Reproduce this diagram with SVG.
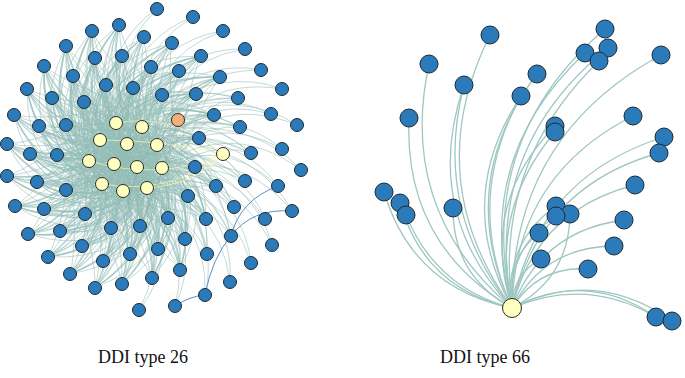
<svg xmlns="http://www.w3.org/2000/svg" xmlns:xlink="http://www.w3.org/1999/xlink" width="685" height="378" viewBox="0 0 685 378">
<style>
.e{fill:none;stroke:#93bcb6;stroke-width:0.9;stroke-opacity:0.62;vector-effect:non-scaling-stroke}
.r{fill:none;stroke:#9fc7c1;stroke-width:1.3;vector-effect:non-scaling-stroke}
.n{fill:#2b7bba;stroke:#1e2a33;stroke-width:1}
.y{fill:#ffffbf;stroke:#2a2a20;stroke-width:1}
.o{fill:#f2b07f;stroke:#2a2a20;stroke-width:1}
.t{font-family:"Liberation Serif","Times New Roman",serif;font-size:18px;fill:#111}
</style>
<defs>
<g id="A">
<path class="e" d="M0,0 Q0.5,-0.3 1,0"/>
<path class="e" d="M0.2,0.25 Q0.55,-0.15 1,0"/>
<path class="e" d="M-0.2,0.2 Q0.35,-0.35 1,0"/>
<path class="e" d="M0.3,-0.2 Q0.7,-0.3 1,0"/>
<path class="e" d="M-0.1,-0.3 Q0.45,-0.5 1,0"/>
<path class="e" d="M0.1,0.1 Q0.6,-0.1 1,0"/>
<path class="e" d="M-0.3,-0.05 Q0.3,-0.6 1,0"/>
<path class="e" d="M0.25,0.35 Q0.75,0.05 1,0"/>
<path class="e" d="M-0.25,0.3 Q0.3,-0.15 1,0"/>
<path class="e" d="M0.35,0.05 Q0.7,-0.15 1,0"/>
<path class="e" d="M0.05,-0.15 Q0.55,-0.45 1,0"/>
<path class="e" d="M-0.15,0.05 Q0.4,-0.25 1,0"/>
<path class="e" d="M0.15,-0.3 Q0.6,-0.55 1,0"/>
<path class="e" d="M-0.05,0.3 Q0.5,0.0 1,0"/>
</g>
<g id="M">
<path class="e" d="M0,0 Q0.5,-0.3 1,0"/>
<path class="e" d="M0.2,0.25 Q0.55,-0.15 1,0"/>
<path class="e" d="M-0.2,0.2 Q0.35,-0.35 1,0"/>
<path class="e" d="M0.3,-0.2 Q0.7,-0.3 1,0"/>
<path class="e" d="M-0.1,-0.3 Q0.45,-0.5 1,0"/>
</g>
<g id="S">
<path class="e" d="M0.1,0.1 Q0.55,-0.3 1,0"/>
<path class="e" d="M0.3,-0.2 Q0.75,-0.25 1,0"/>
</g>
<path id="rc" class="r" d="M0,0 Q0.5,-0.3 1,0"/>
<path id="rc2" class="r" d="M0,0 Q0.5,-0.25 1,0"/>
<path id="rcr" class="r" d="M0,0 Q0.5,0.3 1,0"/>
</defs>
<g id="edges">
<g id="left-edges">
<use href="#A" transform="matrix(-33 -129 129 -33 125 160)"/>
<use href="#A" transform="matrix(-6 -135 135 -6 125 160)"/>
<use href="#A" transform="matrix(19 -123 123 19 125 160)"/>
<use href="#A" transform="matrix(47 -117 117 47 125 160)"/>
<use href="#A" transform="matrix(-59 -114 114 -59 125 160)"/>
<use href="#A" transform="matrix(-30 -102 102 -30 125 160)"/>
<use href="#A" transform="matrix(-3 -104 104 -3 125 160)"/>
<use href="#A" transform="matrix(76 -104 104 76 125 160)"/>
<use href="#A" transform="matrix(-81 -94 94 -81 125 160)"/>
<use href="#A" transform="matrix(26 -93 93 26 125 160)"/>
<use href="#A" transform="matrix(54 -89 89 54 125 160)"/>
<use href="#A" transform="matrix(-52 -84 84 -52 125 160)"/>
<use href="#A" transform="matrix(95 -83 83 95 125 160)"/>
<use href="#A" transform="matrix(-19 -75 75 -19 125 160)"/>
<use href="#A" transform="matrix(8 -72 72 8 125 160)"/>
<use href="#A" transform="matrix(-98 -71 71 -98 125 160)"/>
<use href="#A" transform="matrix(37 -65 65 37 125 160)"/>
<use href="#A" transform="matrix(71 -66 66 71 125 160)"/>
<use href="#A" transform="matrix(-73 -62 62 -73 125 160)"/>
<use href="#A" transform="matrix(-41 -58 58 -41 125 160)"/>
<use href="#A" transform="matrix(-111 -45 45 -111 125 160)"/>
<use href="#A" transform="matrix(89 -45 45 89 125 160)"/>
<use href="#A" transform="matrix(-86 -34 34 -86 125 160)"/>
<use href="#A" transform="matrix(-59 -35 35 -59 125 160)"/>
<use href="#A" transform="matrix(74 -22 22 74 125 160)"/>
<use href="#A" transform="matrix(-118 -16 16 -118 125 160)"/>
<use href="#A" transform="matrix(-95 -6 6 -95 125 160)"/>
<use href="#A" transform="matrix(-68 -5 5 -68 125 160)"/>
<use href="#A" transform="matrix(70 7 -7 70 125 160)"/>
<use href="#A" transform="matrix(-118 16 -16 -118 125 160)"/>
<use href="#A" transform="matrix(-88 22 -22 -88 125 160)"/>
<use href="#A" transform="matrix(-59 30 -30 -59 125 160)"/>
<use href="#A" transform="matrix(63 36 -36 63 125 160)"/>
<use href="#A" transform="matrix(91 26 -26 91 125 160)"/>
<use href="#A" transform="matrix(-110 46 -46 -110 125 160)"/>
<use href="#A" transform="matrix(-81 49 -49 -81 125 160)"/>
<use href="#A" transform="matrix(-40 54 -54 -40 125 160)"/>
<use href="#A" transform="matrix(43 58 -58 43 125 160)"/>
<use href="#A" transform="matrix(81 59 -59 81 125 160)"/>
<use href="#A" transform="matrix(15 66 -66 15 125 160)"/>
<use href="#A" transform="matrix(-14 68 -68 -14 125 160)"/>
<use href="#A" transform="matrix(-97 74 -74 -97 125 160)"/>
<use href="#A" transform="matrix(-65 71 -71 -65 125 160)"/>
<use href="#A" transform="matrix(60 79 -79 60 125 160)"/>
<use href="#A" transform="matrix(-43 86 -86 -43 125 160)"/>
<use href="#A" transform="matrix(33 89 -89 33 125 160)"/>
<use href="#A" transform="matrix(5 94 -94 5 125 160)"/>
<use href="#A" transform="matrix(-22 101 -101 -22 125 160)"/>
<use href="#A" transform="matrix(-77 97 -97 -77 125 160)"/>
<use href="#A" transform="matrix(55 110 -110 55 125 160)"/>
<use href="#A" transform="matrix(-55 114 -114 -55 125 160)"/>
<use href="#A" transform="matrix(27 118 -118 27 125 160)"/>
<use href="#A" transform="matrix(-3 124 -124 -3 125 160)"/>
<use href="#A" transform="matrix(-30 128 -128 -30 125 160)"/>
<use href="#M" transform="matrix(113 -62 62 113 125 160)"/>
<use href="#M" transform="matrix(115 -33 33 115 125 160)"/>
<use href="#M" transform="matrix(126 -7 7 126 125 160)"/>
<use href="#M" transform="matrix(120 21 -21 120 125 160)"/>
<use href="#M" transform="matrix(109 47 -47 109 125 160)"/>
<use href="#M" transform="matrix(106 76 -76 106 125 160)"/>
<use href="#M" transform="matrix(82 94 -94 82 125 160)"/>
<use href="#S" transform="matrix(32 -151 151 32 125 160)"/>
<use href="#S" transform="matrix(68 -143 143 68 125 160)"/>
<use href="#S" transform="matrix(98 -129 129 98 125 160)"/>
<use href="#S" transform="matrix(120 -111 111 120 125 160)"/>
<use href="#S" transform="matrix(136 -90 90 136 125 160)"/>
<use href="#S" transform="matrix(157 -71 71 157 125 160)"/>
<use href="#S" transform="matrix(146 -46 46 146 125 160)"/>
<use href="#S" transform="matrix(172 -35 35 172 125 160)"/>
<use href="#S" transform="matrix(157 -11 11 157 125 160)"/>
<use href="#S" transform="matrix(176 10 -10 176 125 160)"/>
<use href="#S" transform="matrix(153 26 -26 153 125 160)"/>
<use href="#S" transform="matrix(167 51 -51 167 125 160)"/>
<use href="#S" transform="matrix(140 59 -59 140 125 160)"/>
<use href="#S" transform="matrix(147 85 -85 147 125 160)"/>
<use href="#S" transform="matrix(126 103 -103 126 125 160)"/>
<use href="#S" transform="matrix(105 122 -122 105 125 160)"/>
<use href="#S" transform="matrix(80 135 -135 80 125 160)"/>
<use href="#S" transform="matrix(50 146 -146 50 125 160)"/>
<use href="#S" transform="matrix(14 150 -150 14 125 160)"/>
<g fill="none" stroke="#f3f3a6" stroke-width="1" stroke-opacity="0.8">
<path d="M116,123 Q175,112 223,154"/>
<path d="M89,161 Q160,182 223,154"/>
<path d="M102,184 Q170,196 223,154"/>
<path d="M100,140 Q165,140 223,154"/>
<path d="M147,188 Q195,185 223,154"/>
</g>
<g fill="none" stroke="#8c9a9a" stroke-width="0.8" stroke-opacity="0.6">
<path d="M178,120 Q138,150 128,205"/>
<path d="M178,120 Q165,170 140,226"/>
</g>
<g fill="none" stroke="#5a8fc2" stroke-width="1">
<path d="M175,306 Q190,296 205,295"/>
<path d="M205,295 Q212,258 231,236"/>
<path d="M231,236 Q240,200 278,186"/>
<path d="M231,236 Q252,208 292,211"/>
</g>
</g>
<g id="right-edges" transform="translate(512,308)">
<use href="#rc" transform="matrix(-22 -273 273 -22 0 0)"/>
<use href="#rc" transform="matrix(-83 -244 244 -83 0 0)"/>
<use href="#rc" transform="matrix(-48 -223 223 -48 0 0)"/>
<use href="#rc2" transform="matrix(-48 -223 223 -48 0 0)"/>
<use href="#rc" transform="matrix(-103 -190 190 -103 0 0)"/>
<use href="#rc" transform="matrix(25 -234 234 25 0 0)"/>
<use href="#rc" transform="matrix(9 -212 212 9 0 0)"/>
<use href="#rc2" transform="matrix(9 -212 212 9 0 0)"/>
<use href="#rc" transform="matrix(93 -279 279 93 0 0)"/>
<use href="#rc" transform="matrix(96 -260 260 96 0 0)"/>
<use href="#rc" transform="matrix(73 -255 255 73 0 0)"/>
<use href="#rc2" transform="matrix(87 -247 247 87 0 0)"/>
<use href="#rc" transform="matrix(149 -253 253 149 0 0)"/>
<use href="#rc" transform="matrix(121 -192 192 121 0 0)"/>
<use href="#rc" transform="matrix(43 -182 182 43 0 0)"/>
<use href="#rc2" transform="matrix(43 -176 176 43 0 0)"/>
<use href="#rc" transform="matrix(152 -171 171 152 0 0)"/>
<use href="#rc" transform="matrix(147 -155 155 147 0 0)"/>
<use href="#rc" transform="matrix(-128 -116 116 -128 0 0)"/>
<use href="#rc" transform="matrix(-112 -105 105 -112 0 0)"/>
<use href="#rc2" transform="matrix(-106 -93 93 -106 0 0)"/>
<use href="#rc" transform="matrix(-59 -100 100 -59 0 0)"/>
<use href="#rc" transform="matrix(44 -102 102 44 0 0)"/>
<use href="#rcr" transform="matrix(58 -94 94 58 0 0)"/>
<use href="#rc" transform="matrix(44 -92 92 44 0 0)"/>
<use href="#rc" transform="matrix(27 -75 75 27 0 0)"/>
<use href="#rc" transform="matrix(29 -49 49 29 0 0)"/>
<use href="#rc" transform="matrix(123 -123 123 123 0 0)"/>
<use href="#rc" transform="matrix(112 -88 88 112 0 0)"/>
<use href="#rc" transform="matrix(102 -62 62 102 0 0)"/>
<use href="#rc" transform="matrix(76 -39 39 76 0 0)"/>
<use href="#rc" transform="matrix(144 9 -9 144 0 0)"/>
<use href="#rc2" transform="matrix(144 9 -9 144 0 0)"/>
<use href="#rc" transform="matrix(160 13 -13 160 0 0)"/>
</g>
</g>
<g id="left-nodes">
<g id="a1"><circle class="n" cx="157" cy="9" r="6.5"/></g>
<g id="a2"><circle class="n" cx="193" cy="17" r="6.5"/></g>
<g id="a3"><circle class="n" cx="92" cy="31" r="6.5"/></g>
<g id="a4"><circle class="n" cx="119" cy="25" r="6.5"/></g>
<g id="a5"><circle class="n" cx="223" cy="31" r="6.5"/></g>
<g id="a6"><circle class="n" cx="144" cy="37" r="6.5"/></g>
<g id="a7"><circle class="n" cx="172" cy="43" r="6.5"/></g>
<g id="a8"><circle class="n" cx="66" cy="46" r="6.5"/></g>
<g id="a9"><circle class="n" cx="245" cy="49" r="6.5"/></g>
<g id="a10"><circle class="n" cx="95" cy="58" r="6.5"/></g>
<g id="a11"><circle class="n" cx="122" cy="56" r="6.5"/></g>
<g id="a12"><circle class="n" cx="201" cy="56" r="6.5"/></g>
<g id="a13"><circle class="n" cx="44" cy="66" r="6.5"/></g>
<g id="a14"><circle class="n" cx="151" cy="67" r="6.5"/></g>
<g id="a15"><circle class="n" cx="179" cy="71" r="6.5"/></g>
<g id="a16"><circle class="n" cx="261" cy="70" r="6.5"/></g>
<g id="a17"><circle class="n" cx="73" cy="76" r="6.5"/></g>
<g id="a18"><circle class="n" cx="220" cy="77" r="6.5"/></g>
<g id="a19"><circle class="n" cx="106" cy="85" r="6.5"/></g>
<g id="a20"><circle class="n" cx="133" cy="88" r="6.5"/></g>
<g id="a21"><circle class="n" cx="27" cy="89" r="6.5"/></g>
<g id="a22"><circle class="n" cx="282" cy="89" r="6.5"/></g>
<g id="a23"><circle class="n" cx="162" cy="95" r="6.5"/></g>
<g id="a24"><circle class="n" cx="196" cy="94" r="6.5"/></g>
<g id="a25"><circle class="n" cx="52" cy="98" r="6.5"/></g>
<g id="a26"><circle class="n" cx="238" cy="98" r="6.5"/></g>
<g id="a27"><circle class="n" cx="84" cy="102" r="6.5"/></g>
<g id="a28"><circle class="n" cx="14" cy="115" r="6.5"/></g>
<g id="a29"><circle class="n" cx="214" cy="115" r="6.5"/></g>
<g id="a30"><circle class="n" cx="271" cy="114" r="6.5"/></g>
<g id="a31"><circle class="n" cx="39" cy="126" r="6.5"/></g>
<g id="a32"><circle class="n" cx="66" cy="125" r="6.5"/></g>
<g id="a33"><circle class="n" cx="240" cy="127" r="6.5"/></g>
<g id="a34"><circle class="n" cx="297" cy="125" r="6.5"/></g>
<g id="a35"><circle class="n" cx="199" cy="138" r="6.5"/></g>
<g id="a36"><circle class="n" cx="7" cy="144" r="6.5"/></g>
<g id="a37"><circle class="n" cx="282" cy="149" r="6.5"/></g>
<g id="a38"><circle class="n" cx="251" cy="153" r="6.5"/></g>
<g id="a39"><circle class="n" cx="30" cy="154" r="6.5"/></g>
<g id="a40"><circle class="n" cx="57" cy="155" r="6.5"/></g>
<g id="a41"><circle class="n" cx="195" cy="167" r="6.5"/></g>
<g id="a42"><circle class="n" cx="301" cy="170" r="6.5"/></g>
<g id="a43"><circle class="n" cx="7" cy="176" r="6.5"/></g>
<g id="a44"><circle class="n" cx="37" cy="182" r="6.5"/></g>
<g id="a45"><circle class="n" cx="66" cy="190" r="6.5"/></g>
<g id="a46"><circle class="n" cx="188" cy="196" r="6.5"/></g>
<g id="a47"><circle class="n" cx="216" cy="186" r="6.5"/></g>
<g id="a48"><circle class="n" cx="245" cy="181" r="6.5"/></g>
<g id="a49"><circle class="n" cx="278" cy="186" r="6.5"/></g>
<g id="a50"><circle class="n" cx="15" cy="206" r="6.5"/></g>
<g id="a51"><circle class="n" cx="44" cy="209" r="6.5"/></g>
<g id="a52"><circle class="n" cx="85" cy="214" r="6.5"/></g>
<g id="a53"><circle class="n" cx="234" cy="207" r="6.5"/></g>
<g id="a54"><circle class="n" cx="292" cy="211" r="6.5"/></g>
<g id="a55"><circle class="n" cx="168" cy="218" r="6.5"/></g>
<g id="a56"><circle class="n" cx="206" cy="219" r="6.5"/></g>
<g id="a57"><circle class="n" cx="265" cy="219" r="6.5"/></g>
<g id="a58"><circle class="n" cx="140" cy="226" r="6.5"/></g>
<g id="a59"><circle class="n" cx="111" cy="228" r="6.5"/></g>
<g id="a60"><circle class="n" cx="28" cy="234" r="6.5"/></g>
<g id="a61"><circle class="n" cx="60" cy="231" r="6.5"/></g>
<g id="a62"><circle class="n" cx="231" cy="236" r="6.5"/></g>
<g id="a63"><circle class="n" cx="185" cy="239" r="6.5"/></g>
<g id="a64"><circle class="n" cx="272" cy="245" r="6.5"/></g>
<g id="a65"><circle class="n" cx="82" cy="246" r="6.5"/></g>
<g id="a66"><circle class="n" cx="158" cy="249" r="6.5"/></g>
<g id="a67"><circle class="n" cx="130" cy="254" r="6.5"/></g>
<g id="a68"><circle class="n" cx="207" cy="254" r="6.5"/></g>
<g id="a69"><circle class="n" cx="103" cy="261" r="6.5"/></g>
<g id="a70"><circle class="n" cx="48" cy="257" r="6.5"/></g>
<g id="a71"><circle class="n" cx="251" cy="263" r="6.5"/></g>
<g id="a72"><circle class="n" cx="180" cy="270" r="6.5"/></g>
<g id="a73"><circle class="n" cx="70" cy="274" r="6.5"/></g>
<g id="a74"><circle class="n" cx="152" cy="278" r="6.5"/></g>
<g id="a75"><circle class="n" cx="122" cy="284" r="6.5"/></g>
<g id="a76"><circle class="n" cx="95" cy="288" r="6.5"/></g>
<g id="a77"><circle class="n" cx="230" cy="282" r="6.5"/></g>
<g id="a78"><circle class="n" cx="205" cy="295" r="6.5"/></g>
<g id="a79"><circle class="n" cx="175" cy="306" r="6.5"/></g>
<g id="a80"><circle class="n" cx="139" cy="310" r="6.5"/></g>
<g id="y1"><circle class="y" cx="116" cy="123" r="6.5"/></g>
<g id="y2"><circle class="y" cx="142" cy="127" r="6.5"/></g>
<g id="y3"><circle class="y" cx="100" cy="140" r="6.5"/></g>
<g id="y4"><circle class="y" cx="127" cy="144" r="6.5"/></g>
<g id="y5"><circle class="y" cx="157" cy="145" r="6.5"/></g>
<g id="y6"><circle class="y" cx="89" cy="161" r="6.5"/></g>
<g id="y7"><circle class="y" cx="114" cy="164" r="6.5"/></g>
<g id="y8"><circle class="y" cx="137" cy="167" r="6.5"/></g>
<g id="y9"><circle class="y" cx="162" cy="168" r="6.5"/></g>
<g id="y10"><circle class="y" cx="102" cy="184" r="6.5"/></g>
<g id="y11"><circle class="y" cx="123" cy="191" r="6.5"/></g>
<g id="y12"><circle class="y" cx="147" cy="188" r="6.5"/></g>
<g id="y13"><circle class="y" cx="223" cy="154" r="6.5"/></g>
<g id="o1"><circle class="o" cx="178" cy="120" r="6.5"/></g>
</g>
<g id="right-nodes">
<g id="b1"><circle class="n" cx="490" cy="35" r="9"/></g>
<g id="b2"><circle class="n" cx="429" cy="64" r="9"/></g>
<g id="b3"><circle class="n" cx="464" cy="85" r="9"/></g>
<g id="b4"><circle class="n" cx="409" cy="118" r="9"/></g>
<g id="b5"><circle class="n" cx="537" cy="74" r="9"/></g>
<g id="b6"><circle class="n" cx="521" cy="96" r="9"/></g>
<g id="b7"><circle class="n" cx="605" cy="29" r="9"/></g>
<g id="b8"><circle class="n" cx="608" cy="48" r="9"/></g>
<g id="b9"><circle class="n" cx="585" cy="53" r="9"/></g>
<g id="b10"><circle class="n" cx="599" cy="61" r="9"/></g>
<g id="b11"><circle class="n" cx="661" cy="55" r="9"/></g>
<g id="b12"><circle class="n" cx="633" cy="116" r="9"/></g>
<g id="b13"><circle class="n" cx="555" cy="126" r="9"/></g>
<g id="b14"><circle class="n" cx="555" cy="132" r="9"/></g>
<g id="b15"><circle class="n" cx="664" cy="137" r="9"/></g>
<g id="b16"><circle class="n" cx="659" cy="153" r="9"/></g>
<g id="b17"><circle class="n" cx="384" cy="192" r="9"/></g>
<g id="b18"><circle class="n" cx="400" cy="203" r="9"/></g>
<g id="b19"><circle class="n" cx="406" cy="215" r="9"/></g>
<g id="b20"><circle class="n" cx="453" cy="208" r="9"/></g>
<g id="b21"><circle class="n" cx="556" cy="206" r="9"/></g>
<g id="b22"><circle class="n" cx="570" cy="214" r="9"/></g>
<g id="b23"><circle class="n" cx="556" cy="216" r="9"/></g>
<g id="b24"><circle class="n" cx="539" cy="233" r="9"/></g>
<g id="b25"><circle class="n" cx="541" cy="259" r="9"/></g>
<g id="b26"><circle class="n" cx="635" cy="185" r="9"/></g>
<g id="b27"><circle class="n" cx="624" cy="220" r="9"/></g>
<g id="b28"><circle class="n" cx="614" cy="246" r="9"/></g>
<g id="b29"><circle class="n" cx="588" cy="269" r="9"/></g>
<g id="b30"><circle class="n" cx="656" cy="317" r="9"/></g>
<g id="b31"><circle class="n" cx="672" cy="321" r="9"/></g>
<g id="hub"><circle class="y" cx="512" cy="308" r="9.5"/></g>
</g>
<g id="labels">
<text class="t" x="98" y="363">DDI type 26</text>
<text class="t" x="440" y="363">DDI type 66</text>
</g>
</svg>
